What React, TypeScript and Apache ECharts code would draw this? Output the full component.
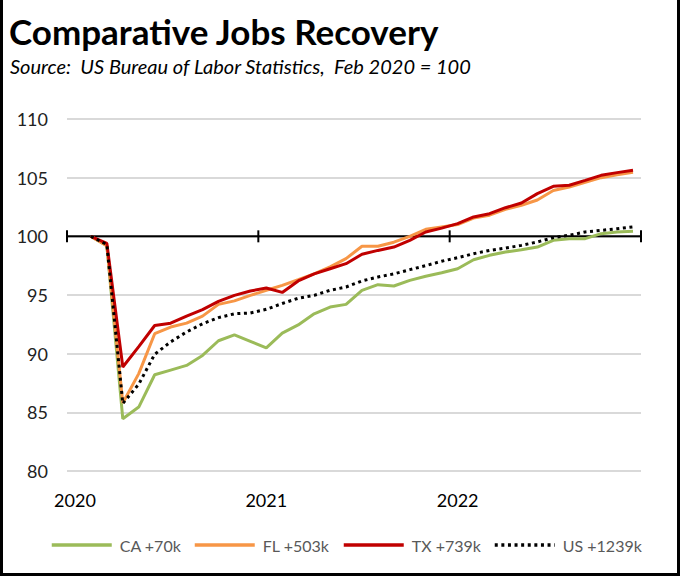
import React, { useEffect, useRef } from "react";
import * as echarts from "echarts";

const MONTHS = [
  "Jan 2020", "Feb 2020", "Mar 2020", "Apr 2020", "May 2020", "Jun 2020",
  "Jul 2020", "Aug 2020", "Sep 2020", "Oct 2020", "Nov 2020", "Dec 2020",
  "Jan 2021", "Feb 2021", "Mar 2021", "Apr 2021", "May 2021", "Jun 2021",
  "Jul 2021", "Aug 2021", "Sep 2021", "Oct 2021", "Nov 2021", "Dec 2021",
  "Jan 2022", "Feb 2022", "Mar 2022", "Apr 2022", "May 2022", "Jun 2022",
  "Jul 2022", "Aug 2022", "Sep 2022", "Oct 2022", "Nov 2022", "Dec 2022",
];

// Index values, Feb 2020 = 100 (Jan 2020 has no value)
const CA = [
  null, 100, 99.2, 84.45, 85.45, 88.2, 88.6, 89.0, 89.85, 91.1, 91.6, 91.05,
  90.5, 91.75, 92.45, 93.4, 93.97, 94.2, 95.4, 95.88, 95.77, 96.25, 96.6, 96.9,
  97.24, 98.0, 98.38, 98.66, 98.86, 99.09, 99.66, 99.8, 99.8, 100.23, 100.37, 100.43,
];
const FL = [
  null, 100, 99.2, 85.8, 88.3, 91.7, 92.27, 92.6, 93.2, 94.2, 94.5, 94.97,
  95.4, 95.82, 96.3, 96.8, 97.4, 98.1, 99.15, 99.15, 99.5, 100.0, 100.6, 100.8,
  101.0, 101.55, 101.8, 102.3, 102.65, 103.1, 103.9, 104.2, 104.6, 105.0, 105.25, 105.45,
];
const TX = [
  null, 100, 99.4, 88.86, 90.6, 92.4, 92.6, 93.2, 93.75, 94.45, 94.97, 95.34,
  95.6, 95.22, 96.2, 96.8, 97.24, 97.67, 98.47, 98.8, 99.09, 99.66, 100.37, 100.7,
  101.08, 101.65, 101.93, 102.44, 102.84, 103.64, 104.26, 104.35, 104.77, 105.2, 105.43, 105.63,
];
const US = [
  null, 100, 99.3, 85.75, 87.4, 89.95, 91.0, 91.85, 92.55, 93.07, 93.4, 93.47,
  93.78, 94.28, 94.72, 94.97, 95.4, 95.68, 96.2, 96.53, 96.8, 97.16, 97.5, 97.88,
  98.18, 98.52, 98.8, 99.0, 99.23, 99.52, 99.89, 100.09, 100.37, 100.51, 100.65, 100.8,
];

const SERIES_NAMES = ["CA +70k", "FL +503k", "TX +739k", "US +1239k"];
const Y_MIN = 80;
const Y_MAX = 110;
const Y_STEP = 5;
const BASELINE = 100;
// category boundaries where the year ticks sit on the 100 line: [index, side]
const YEAR_TICKS = [
  [0, -1],
  [12, -1],
  [24, -1],
  [35, 1],
];

const FONT = "Lato, 'Noto Sans', sans-serif";

export default function App() {
  const ref = useRef<HTMLDivElement>(null);

  useEffect(() => {
    if (!ref.current) return;
    const chart = echarts.init(ref.current, null, { renderer: "svg" });

    const legendLefts = [50, 193, 342, 493];
    const colors = ["#9BBB59", "#F79646", "#C00000", "#000000"];
    const datasets = [CA, FL, TX, US];

    const lineSeries = datasets.map((d, i) => ({
      type: "line",
      name: SERIES_NAMES[i],
      data: d,
      symbol: "none",
      showSymbol: false,
      connectNulls: false,
      z: 3 + i,
      lineStyle:
        i === 3
          ? { color: colors[i], width: 3, type: [3, 3.6] }
          : { color: colors[i], width: 3 },
      itemStyle: { color: colors[i] },
    }));

    const option: any = {
      animation: false,
      backgroundColor: "#ffffff",
      title: [
        {
          text: "Comparative Jobs Recovery",
          left: 9,
          top: 13,
          padding: 0,
          textStyle: {
            fontFamily: FONT,
            fontSize: 35,
            fontWeight: "bold",
            color: "#000000",
          },
        },
        {
          text: "Source:  US Bureau of Labor Statistics,  Feb 2020 = 100",
          left: 10,
          top: 56,
          padding: 0,
          textStyle: {
            fontFamily: FONT,
            fontSize: 20,
            fontStyle: "italic",
            fontWeight: "normal",
            color: "#000000",
          },
        },
      ],
      legend: SERIES_NAMES.map((n, i) => ({
        data: [n],
        left: legendLefts[i],
        top: 537,
        itemWidth: 60,
        itemHeight: 14,
        padding: 0,
        selectedMode: false,
        itemStyle: { opacity: 0 },
        lineStyle: { width: 3.5 },
        textStyle: {
          fontFamily: FONT,
          fontSize: 16,
          color: "#595959",
          padding: [0, 0, 0, 3],
        },
      })),
      grid: { left: 67, right: 42, top: 119, bottom: 108, containLabel: false },
      xAxis: {
        type: "category",
        data: MONTHS,
        boundaryGap: true,
        axisLine: { show: false },
        axisTick: { show: false },
        splitLine: { show: false },
        axisLabel: {
          interval: (idx: number) => idx % 12 === 0,
          formatter: (v: string) => v.slice(4),
          margin: 20,
          fontFamily: FONT,
          fontSize: 18,
          color: "#000000",
        },
      },
      yAxis: {
        type: "value",
        min: Y_MIN,
        max: Y_MAX,
        interval: Y_STEP,
        axisLine: { show: false },
        axisTick: { show: false },
        axisLabel: {
          margin: 19,
          fontFamily: FONT,
          fontSize: 18,
          color: "#222222",
        },
        splitLine: { show: true, lineStyle: { color: "#D9D9D9", width: 2 } },
      },
      series: [
        {
          type: "custom",
          silent: true,
          clip: false,
          z: 2,
          data: YEAR_TICKS.map((t) => [t[0], BASELINE, t[1]]),
          renderItem: (params: any, api: any) => {
            const idx = api.value(0);
            const side = api.value(2);
            const pt = api.coord([idx, BASELINE]);
            const band = api.size([1, 0])[0];
            const x = pt[0] + (side * band) / 2;
            const y = pt[1];
            const children: any[] = [
              {
                type: "line",
                shape: { x1: x, y1: y - 6, x2: x, y2: y + 6 },
                style: { stroke: "#000000", lineWidth: 2 },
              },
            ];
            if (params.dataIndex === 0) {
              const cs = params.coordSys;
              children.push({
                type: "line",
                shape: { x1: cs.x, y1: y, x2: cs.x + cs.width, y2: y },
                style: { stroke: "#000000", lineWidth: 2 },
              });
            }
            return { type: "group", children };
          },
        },
        ...lineSeries,
      ],
    };

    chart.setOption(option);
    return () => chart.dispose();
  }, []);

  return (
    <div style={{ position: "absolute", left: 0, top: 0, width: 683, height: 579, background: "#fff" }}>
      <div ref={ref} style={{ position: "absolute", left: 0, top: 0, width: 683, height: 579 }} />
      <div
        style={{
          position: "absolute",
          left: 0,
          top: 0,
          width: 680,
          height: 576,
          boxSizing: "border-box",
          borderLeft: "3px solid #000",
          borderRight: "3px solid #000",
          borderBottom: "3px solid #000",
          pointerEvents: "none",
        }}
      />
    </div>
  );
}
